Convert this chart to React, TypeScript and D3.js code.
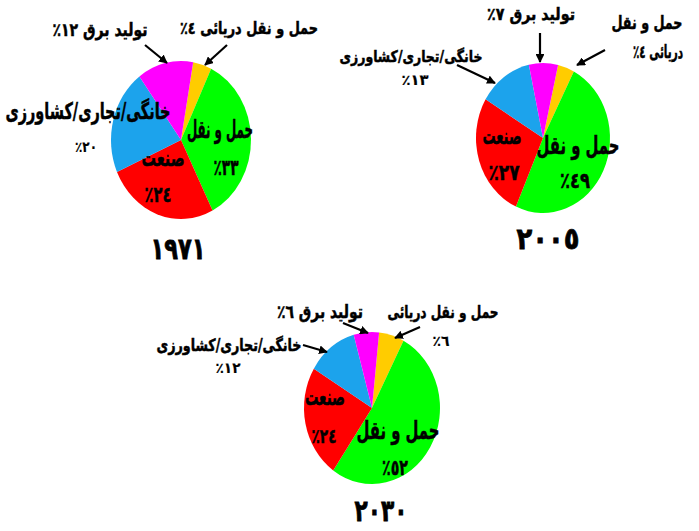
import React from "react";
import * as d3 from "d3";

// ---- data ----
const categories = ["حمل و نقل دریائی", "حمل و نقل", "صنعت", "خانگی/تجاری/کشاورزی", "تولید برق"];
const years = ["١٩٧١", "٢٠٠٥", "٢٠٣٠"];
const values1971 = [4, 33, 24, 20, 12];
const values2005 = [4, 49, 27, 13, 7];
const values2030 = [6, 52, 24, 12, 6];
const sliceColors = ["#ffcc00", "#00ff00", "#ff0000", "#1ca3ec", "#ff00ff"];

const toAr = (n: number) => String(n).replace(/[0-9]/g, (d) => "٠١٢٣٤٥٦٧٨٩"[+d]);
const pct = (n: number) => toAr(n) + "٪";

const FONT = "'DejaVu Sans', sans-serif";

type Lbl = { text: string; x: number; y: number; size: number; w: number; sw?: number };
type Arrow = [number, number, number, number];

type PieSpec = {
  values: number[];
  year: string;
  cx: number; cy: number; rx: number; ry: number; start: number;
  labels: Lbl[];
  arrows: Arrow[];
  yearPos: [number, number, number];
};

const deg = Math.PI / 180;

function specs(): PieSpec[] {
  const v1 = values1971, v2 = values2005, v3 = values2030;
  return [
    {
      values: v1, year: years[0], cx: 181, cy: 140, rx: 70, ry: 79, start: 10 * deg,
      labels: [
        { text: categories[4] + " " + pct(v1[4]), x: 100, y: 36, size: 18, w: 95 },
        { text: categories[0] + " " + pct(v1[0]), x: 249, y: 34, size: 17, w: 138 },
        { text: categories[3], x: 88, y: 119, size: 23, w: 165 },
        { text: pct(v1[3]), x: 86, y: 152, size: 15, w: 22, sw: 0.2 },
        { text: categories[1], x: 220, y: 138, size: 25, w: 66 },
        { text: pct(v1[1]), x: 226, y: 175, size: 22, w: 25 },
        { text: categories[2], x: 163, y: 166, size: 23, w: 43 },
        { text: pct(v1[2]), x: 158, y: 202, size: 22, w: 27 },
      ],
      arrows: [[145, 45, 167, 63], [227, 45, 205, 65]],
      yearPos: [178, 259, 55],
    },
    {
      values: v2, year: years[1], cx: 543, cy: 138, rx: 67, ry: 75, start: 13 * deg,
      labels: [
        { text: categories[4] + " " + pct(v2[4]), x: 531, y: 20, size: 17, w: 88 },
        { text: categories[1], x: 647, y: 29, size: 18, w: 71 },
        { text: "دریائی " + pct(v2[0]), x: 658, y: 58, size: 18, w: 50 },
        { text: categories[3], x: 411, y: 62, size: 16, w: 143 },
        { text: pct(v2[3]), x: 415, y: 85, size: 15, w: 27, sw: 0.2 },
        { text: categories[1], x: 578, y: 154, size: 25, w: 83 },
        { text: pct(v2[1]), x: 575, y: 188, size: 22, w: 30 },
        { text: categories[2], x: 502, y: 144, size: 23, w: 39 },
        { text: pct(v2[2]), x: 504, y: 180, size: 22, w: 31 },
      ],
      arrows: [[540, 33, 540, 62], [605, 50, 577, 65], [457, 65, 495, 83]],
      yearPos: [548, 249, 63],
    },
    {
      values: v3, year: years[2], cx: 372, cy: 408, rx: 68, ry: 76, start: 6 * deg,
      labels: [
        { text: categories[4] + " " + pct(v3[4]), x: 320, y: 318, size: 18, w: 86 },
        { text: categories[0], x: 443, y: 318, size: 17, w: 111 },
        { text: pct(v3[0]), x: 441, y: 346, size: 15, w: 17, sw: 0.2 },
        { text: categories[3], x: 229, y: 351, size: 17, w: 145 },
        { text: pct(v3[3]), x: 228, y: 373, size: 15, w: 25, sw: 0.2 },
        { text: categories[1], x: 398, y: 439, size: 25, w: 83 },
        { text: pct(v3[1]), x: 395, y: 475, size: 22, w: 26 },
        { text: categories[2], x: 325, y: 405, size: 23, w: 40 },
        { text: pct(v3[2]), x: 324, y: 443, size: 20, w: 25 },
      ],
      arrows: [[343, 323, 368, 333], [420, 327, 395, 338], [303, 345, 327, 352]],
      yearPos: [381, 521, 53],
    },
  ];
}

function Pie({ s }: { s: PieSpec }) {
  const pie = d3.pie<number>().sort(null).value((d) => d)
    .startAngle(s.start).endAngle(s.start + 2 * Math.PI);
  const arcs = pie(s.values);
  const arc = d3.arc<d3.PieArcDatum<number>>().innerRadius(0).outerRadius(s.rx);
  const color = d3.scaleOrdinal<number, string>().domain(d3.range(categories.length)).range(sliceColors);
  return (
    <g>
      <g transform={`translate(${s.cx},${s.cy}) scale(1,${s.ry / s.rx})`}>
        {arcs.map((a, i) => (
          <path key={i} d={arc(a) || ""} fill={color(i)} />
        ))}
      </g>
      {s.arrows.map((a, i) => (
        <line key={"a" + i} x1={a[0]} y1={a[1]} x2={a[2]} y2={a[3]} stroke="#000" strokeWidth={2.2} markerEnd="url(#arrowhead)" />
      ))}
      {s.labels.map((l, i) => (
        <text key={"l" + i} x={l.x} y={l.y} fontSize={l.size} fontWeight="bold" textAnchor="middle"
          direction="rtl" fontFamily={FONT} fill="#000" stroke="#000" strokeWidth={l.sw ?? 0.5}
          textLength={l.w} lengthAdjust="spacingAndGlyphs">
          {l.text}
        </text>
      ))}
      <text x={s.yearPos[0]} y={s.yearPos[1]} fontSize={30} fontWeight="bold" textAnchor="middle"
        direction="rtl" fontFamily={FONT} fill="#000" stroke="#000" strokeWidth={0.8}
        textLength={s.yearPos[2]} lengthAdjust="spacingAndGlyphs">{s.year}</text>
    </g>
  );
}

export default function App() {
  const all = specs();
  return (
    <div style={{ position: "absolute", left: 0, top: 0 }}>
      <svg width={699} height={531} style={{ display: "block", background: "#fff" }}>
        <defs>
          <marker id="arrowhead" viewBox="0 0 10 10" refX={9} refY={5} markerWidth={4} markerHeight={4}
            orient="auto" markerUnits="strokeWidth">
            <path d="M0,0 L10,5 L0,10 z" fill="#000" />
          </marker>
        </defs>
        {all.map((s, i) => <Pie key={i} s={s} />)}
      </svg>
    </div>
  );
}
